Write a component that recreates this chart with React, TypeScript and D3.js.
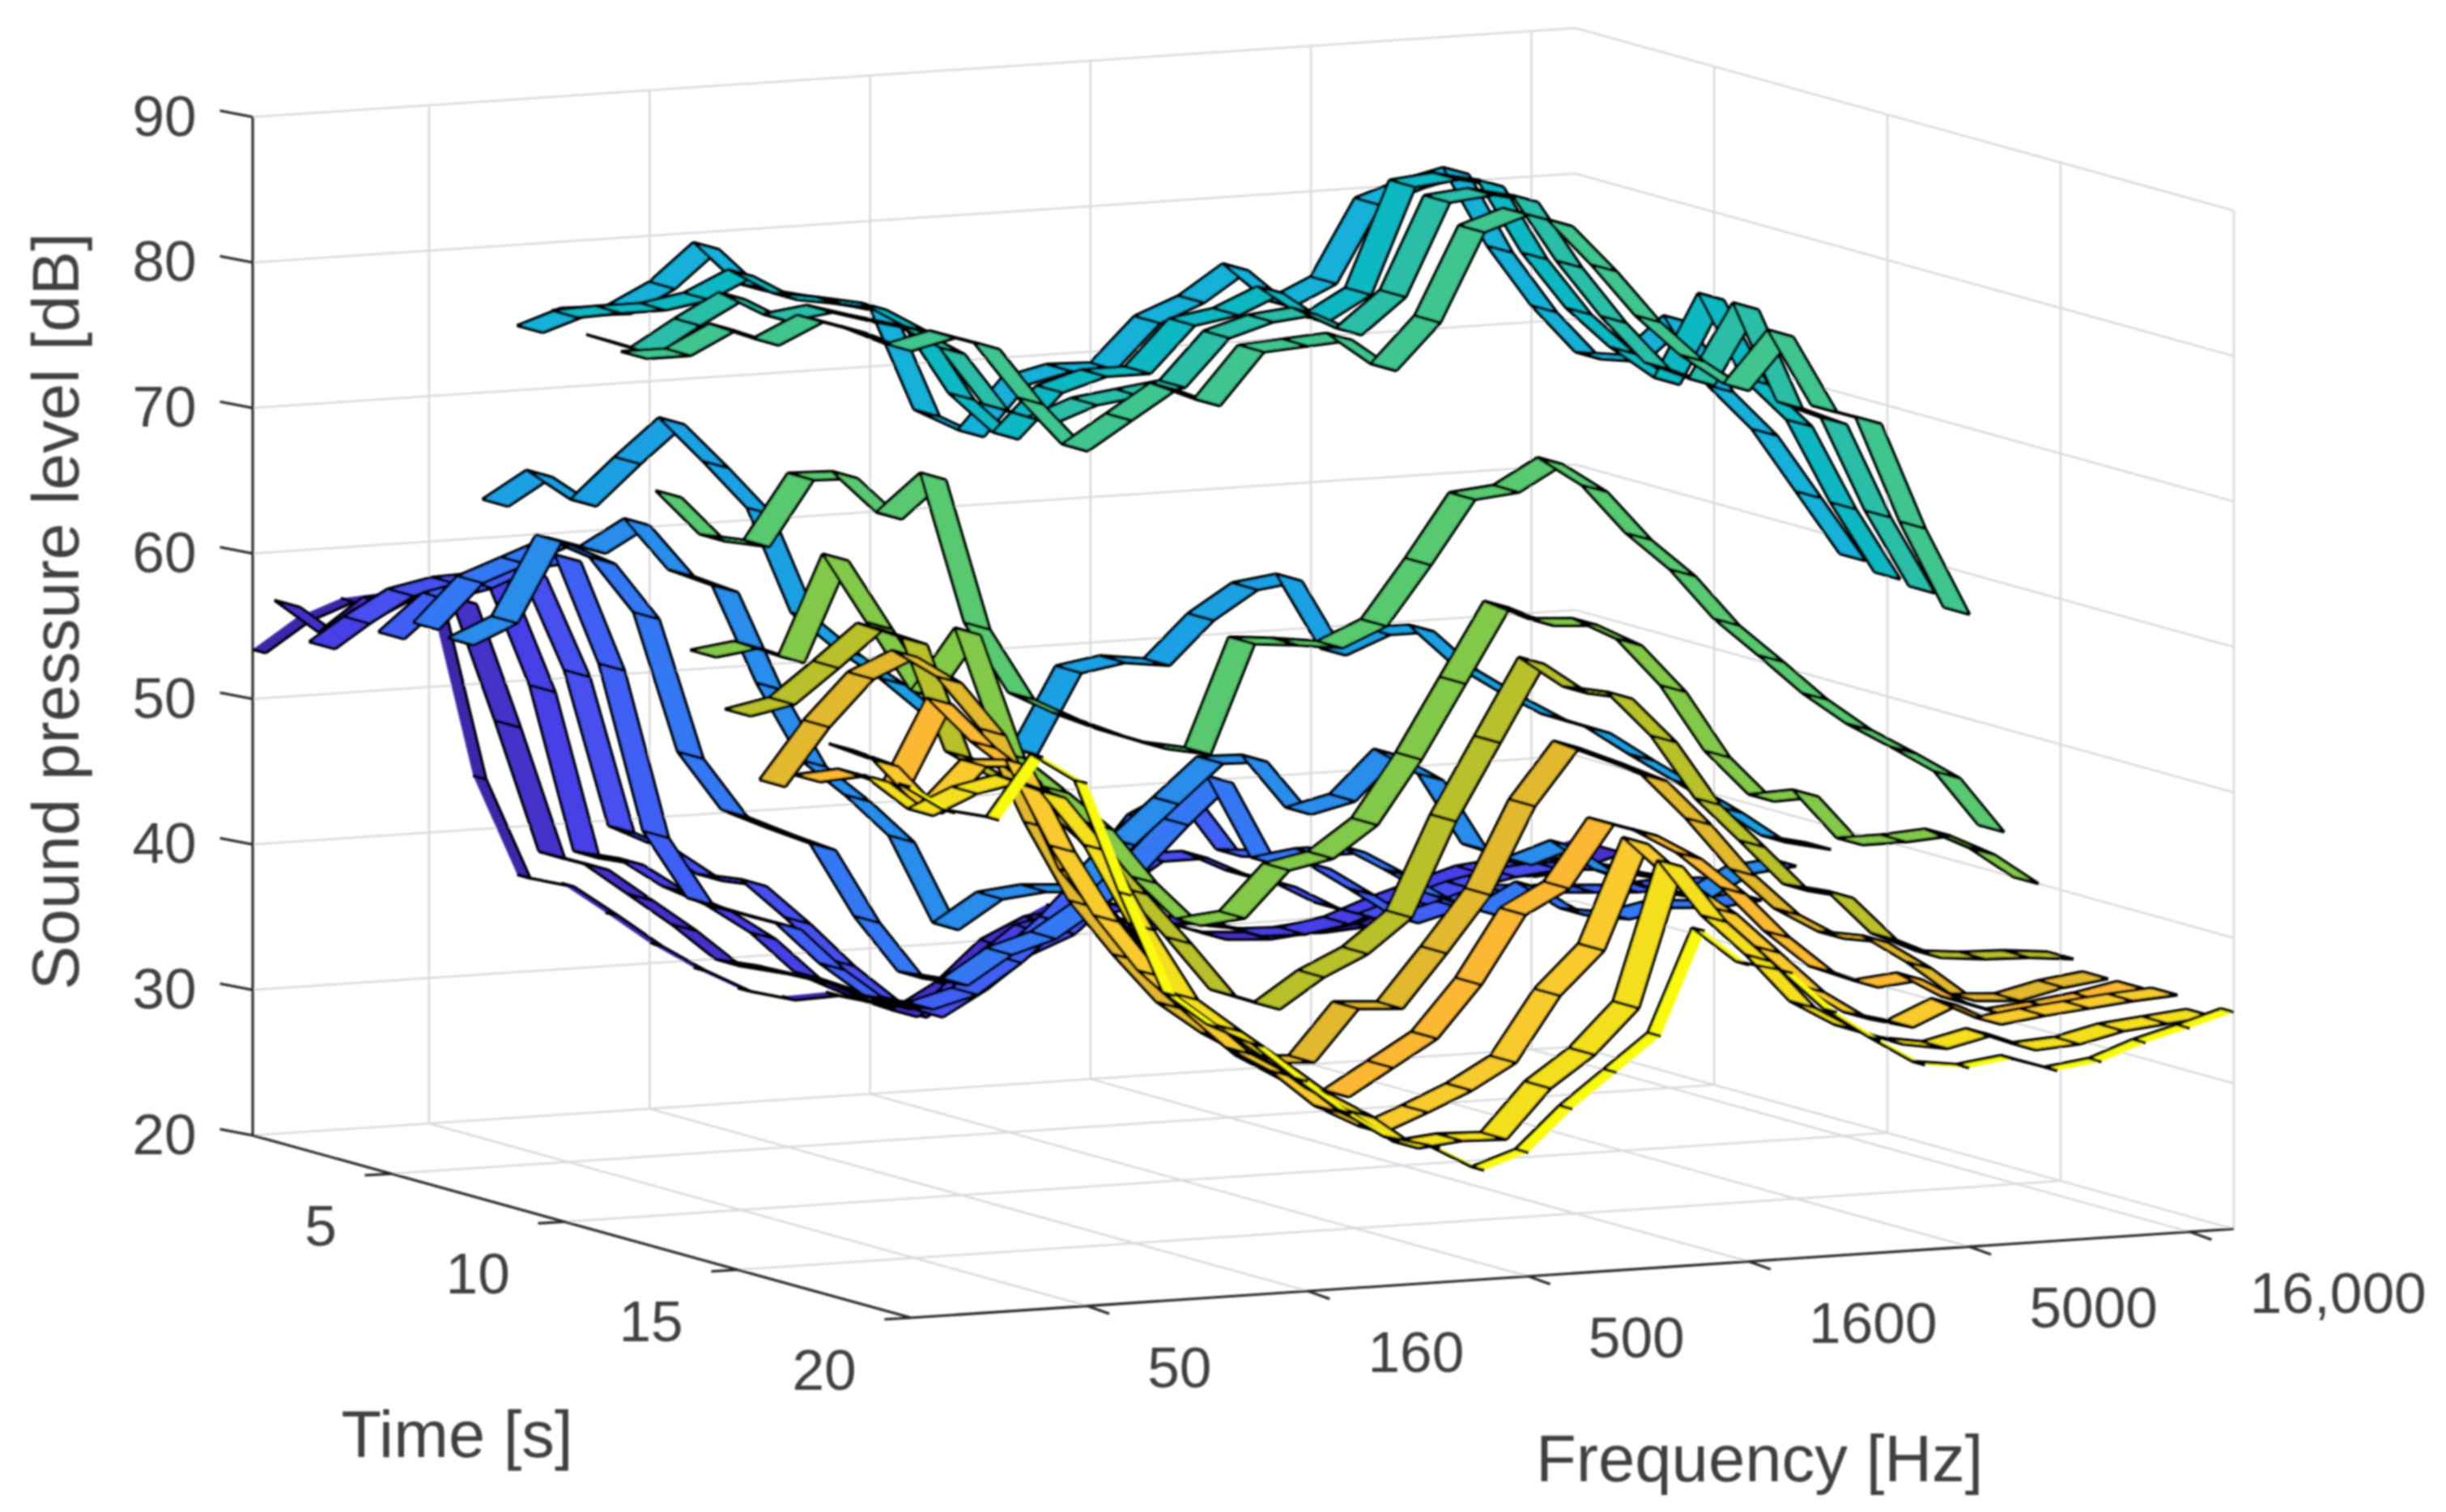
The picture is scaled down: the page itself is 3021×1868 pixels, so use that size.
import { useEffect, useRef } from 'react';
import * as d3 from 'd3';

// one row per time step, 31 third-octave bands from 20 Hz to 20 kHz, dB
const spl01 = [53.4,55.4,56.5,56.7,56.5,43.7,36.7,35.9,33.7,31.4,29.5,27.9,27.1,27.2,26.4,25.3,27.8,30.8,32.2,31.5,30.7,30.5,30,29.4,29.3,29.5,30.4,31.4,32.3,33.5,34.3];
const spl02 = [57.2,54.8,57,57.1,56.6,47.9,38.7,37.7,35.4,33.1,30.5,29.8,28.9,27.4,26.2,27.9,30.6,32,32.3,31.1,31.2,30.1,29.9,30.2,30.6,31.8,32.8,33.4,33,33.3,34.2];
const spl03 = [55,57,58.4,58.2,58.7,51,39.4,38.7,36.6,35.1,33,30.1,28.9,27.6,27.4,30.1,32.3,32.9,33.5,32.3,32,31,30.9,31.4,32.5,33.4,34.3,34.6,34.5,34,33.2];
const spl04 = [57.4,59.1,59.7,59.8,59.8,52.7,41.8,40.3,38.1,37.5,34.7,31.6,29,27.7,29.4,31.6,32.8,35.5,37.4,37.4,35.9,35,33.3,32.3,33.2,34.1,34.7,35,34.8,34.1,33.4];
const spl05 = [57,59.5,60.1,61.3,61.5,53.8,42.1,37.3,36.2,35.2,32.2,29.8,29.1,29.9,31.9,34.4,37.4,41,42.4,38.2,37.9,36.9,34.9,32.8,33.6,34.5,34.3,34.1,33.9,34.1,34];
const spl06 = [58.3,61.3,62.4,63.5,62,58,48.2,44,42.6,41.3,36.1,32.1,31.4,33.3,34.2,36.1,38.4,41.4,44.1,38.3,38.7,38.7,36.9,35,33.8,35.4,33.4,32.9,33.5,33.3,33.6];
const spl07 = [57.9,59.2,64.6,63.6,65.3,61.6,60.3,53.4,47.9,45.3,42.3,36.1,38,38.3,38.1,41.1,43.7,46.3,46.2,42.4,43.1,46,44.1,39.1,37.9,38.9,36.7,35.4,34.7,36.3,36.6];
const spl08 = [68.1,69.9,67.7,70.4,72.9,69.7,66.3,58.9,56.2,54,51.3,49.5,48.6,54,54.5,54.1,57,58.9,59.3,54,55.2,55.2,52.3,50.3,48.5,47.4,45.3,43.3,41.3,39.1,38.4];
const spl09 = [80.7,81.7,81.6,83.1,85.6,82.6,81.8,81.1,80.3,73.1,71.5,74.9,75.6,75.5,78.5,79.7,81.7,79,80.4,85.6,86.6,87.3,81.7,77.4,74,73.6,76.1,71.1,67.9,63.4,58.9];
const spl10 = [82.4,82.5,82.5,83,84.4,82.6,82.1,81.5,79.7,74.9,72,75,75.9,75.9,79,79.5,80.8,78.6,80.3,87.5,87.8,87.1,81.9,77.9,75,72.7,78.3,72.3,69.2,63.3,58.3];
const spl11 = [81.4,80.3,82.1,83.7,82,82.4,81.5,80.7,78.9,74.8,73.7,74.8,75.2,75.6,78.8,79.7,80,78.4,80.8,87.1,87.4,86.7,82,78,74.6,73.3,78.3,71.3,70,63.4,58];
const spl12 = [80.9,80.9,82.4,81.2,82.6,81.6,80.2,80.9,79.9,75.9,72.5,74.4,76.3,75,78.5,78.7,78.9,76.6,79.7,85.7,86.7,85.7,82.4,78.7,75.8,73.6,77.1,71.7,70.7,63.3,57.2];
const spl13 = [72,68.8,68.2,72.6,72.5,69.5,72,61.5,56.5,54.9,53.6,52.5,51.9,59.3,59,58.6,59.9,63.9,68.2,68.5,70.2,68.1,64.6,61.9,58.3,55.6,52.8,50.5,48.7,46.8,42.9];
const spl14 = [61.7,62.1,60.9,67.7,62.8,57.9,62,53.3,50.7,48,44.1,41,41.3,44.4,45,47.1,51.4,56.4,61.4,60,59.8,58.2,54.8,50.1,46.9,47,43.5,43.5,43.7,42.2,40];
const spl15 = [58.3,58.9,61.2,63.6,62.4,54.4,52.5,50.7,47.8,44.2,40.6,36.8,35.7,37.7,39.1,41.4,47.8,53,58.2,56,55.4,52.2,47.7,44.6,41.4,40.7,37.6,36.2,35.9,35.8,35.5];
const spl16 = [54.1,58,61.1,62.4,60.4,56.6,50,44.4,40.5,37,34.7,32.9,32.7,36.2,36,39.6,43.4,49.3,53.1,51.8,50.4,47.2,43.5,40.6,38.8,38.3,36.3,33.9,33.7,34.4,34.8];
const spl17 = [55.1,55.3,54.1,59.8,56.6,54.1,47.4,43.5,39.5,36.6,33.8,32,31,32.8,34.6,38.1,42.7,44.3,48.5,47.5,45.7,43.1,39.9,37.3,36.1,36.4,34.6,33.5,33.8,34.2,34.8];
const spl18 = [57.9,56.6,53.2,56.2,56,49.9,44.9,40.9,38,35.2,33.4,30.8,29.2,30.4,31.7,33.4,37.8,40.7,47.8,44.9,42.6,39.7,36.8,34.8,34,35.3,33.8,34.2,34.5,34.8,35];
const spl19 = [56.4,53.9,55.2,55.8,54.5,50.6,45,40,37.6,35.3,32.9,31.1,28.8,29.1,29,32.3,34.4,37.4,46.9,42.9,40,36.6,34.8,33.7,33.2,33.9,32.7,32.9,33.6,33.9,34.2];
const spl20 = [56.5,54.5,53.8,57.9,55.9,48,40.9,38.5,37,34.4,32,30,29.2,27.5,28.5,31.3,33.6,35.9,42.9,40.4,39.6,36.7,34.6,32.7,32.3,32.7,31.7,32.1,33.2,34,34.9];

const ribbons = [spl01,spl02,spl03,spl04,spl05,spl06,spl07,spl08,spl09,spl10,spl11,spl12,spl13,spl14,spl15,spl16,spl17,spl18,spl19,spl20];
const ribbonColors = ['#3e26a8','#4530c8','#4740e6','#4650ee','#4060f5','#3478f3','#2a8ceb','#1fa0e4','#17b0d8','#0bb8c2','#2abea8','#3fc58f','#58c96f','#82c94a','#b8c02a','#e2b82f','#fbb832','#f8ca2e','#f4df1e','#f9fb0e'];

const splTicks = [20,30,40,50,60,70,80,90];
const timeTicks = [5,10,15,20];
const freqTickBands = [4,9,14,19,24,29];
const freqLabels = ['50','160','500','1600','5000','16,000'];

const ribbonWidth = 0.75;
const inkColor = '#404040';

const App = () => {
  const ref = useRef<SVGSVGElement | null>(null);

  useEffect(() => {
    const svg = d3.select(ref.current);
    svg.selectAll('*').remove();

    // skewed box, worked out in the 1568 wide picture
    const xBand = d3.scaleLinear().domain([0,30]).range([162,1010]);
    const yBand = d3.scaleLinear().domain([0,30]).range([728,671]);
    const xTime = d3.scaleLinear().domain([1,20]).range([0,422]);
    const yTime = d3.scaleLinear().domain([1,20]).range([0,117]);
    const yLevel = d3.scaleLinear().domain([20,90]).range([0,-653]);

    const project = (b: number, t: number, z: number): [number,number] =>
      [xBand(b)+xTime(t), yBand(b)+yTime(t)+yLevel(z)];
    const line = d3.line();

    svg.append('defs').append('filter')
      .attr('id','soft')
      .attr('filterUnits','userSpaceOnUse')
      .attr('x',0).attr('y',0).attr('width',1568).attr('height',970)
      .append('feGaussianBlur').attr('stdDeviation',0.65);

    const g = svg.append('g').attr('filter','url(#soft)');

    // grid on the walls and the floor
    const grid = g.append('g').attr('fill','none').attr('stroke','#d9d9d9').attr('stroke-width',1.3);
    const gridLine = (a: [number,number], b: [number,number]) => grid.append('path').attr('d',line([a,b]));

    splTicks.forEach(z => {
      gridLine(project(0,1,z),project(30,1,z));
      gridLine(project(30,1,z),project(30,20,z));
    });
    freqTickBands.forEach(b => {
      gridLine(project(b,1,20),project(b,1,90));
      gridLine(project(b,1,20),project(b,20,20));
    });
    timeTicks.forEach(t => {
      gridLine(project(30,t,20),project(30,t,90));
      gridLine(project(0,t,20),project(30,t,20));
    });

    // axes and ticks
    const axes = g.append('g').attr('fill','none').attr('stroke','#262626').attr('stroke-width',1.6);
    const axisLine = (a: [number,number], b: [number,number]) => axes.append('path').attr('d',line([a,b]));
    axisLine(project(0,1,20),project(0,1,90));
    axisLine(project(0,1,20),project(0,20,20));
    axisLine(project(0,20,20),project(30,20,20));
    splTicks.forEach(z => {
      const p = project(0,1,z);
      axisLine(p,[p[0]-21,p[1]-4]);
    });
    timeTicks.forEach(t => {
      const p = project(0,t,20);
      axisLine(p,[p[0]-17,p[1]+1]);
    });
    freqTickBands.forEach(b => {
      const p = project(b,20,20);
      axisLine(p,[p[0]+14,p[1]+5]);
    });

    // ribbons, back to front
    const bands = d3.range(31);
    ribbons.forEach((levels,idx) => {
      const t = idx+1;
      const t0 = Math.max(1,t-ribbonWidth/2);
      const t1 = Math.min(20,t+ribbonWidth/2);
      const rg = g.append('g');
      bands.slice(0,-1).forEach(b => {
        const a0 = project(b,t0,levels[b]);
        const a1 = project(b,t1,levels[b]);
        const b0 = project(b+1,t0,levels[b+1]);
        const b1 = project(b+1,t1,levels[b+1]);
        rg.append('path').attr('d',line([a0,a1,b1,b0])+'Z').attr('fill',ribbonColors[idx]).attr('stroke','none');
        const edges = d3.path();
        edges.moveTo(a0[0],a0[1]); edges.lineTo(a1[0],a1[1]);
        edges.moveTo(b0[0],b0[1]); edges.lineTo(b1[0],b1[1]);
        // the box cuts the first and last ribbon, no black on the cut side
        if (t-ribbonWidth/2 >= 1) { edges.moveTo(a0[0],a0[1]); edges.lineTo(b0[0],b0[1]); }
        if (t+ribbonWidth/2 <= 20) { edges.moveTo(a1[0],a1[1]); edges.lineTo(b1[0],b1[1]); }
        rg.append('path').attr('d',edges.toString()).attr('fill','none').attr('stroke','#000').attr('stroke-width',1.9);
      });
    });

    // text
    const text = g.append('g').attr('font-family','"Liberation Sans", Arial, sans-serif').attr('fill',inkColor);
    splTicks.forEach(z => {
      const p = project(0,1,z);
      text.append('text').text(z).attr('x',126).attr('y',p[1]+12).attr('text-anchor','end').attr('font-size',37);
    });
    timeTicks.forEach(t => {
      const p = project(0,t,20);
      text.append('text').text(t).attr('x',p[0]-35).attr('y',p[1]+46).attr('text-anchor','end').attr('font-size',37);
    });
    freqLabels.forEach((label,i) => {
      const p = project(freqTickBands[i],20,20);
      text.append('text').text(label).attr('x',p[0]+38.5).attr('y',p[1]+52).attr('text-anchor','start').attr('font-size',37);
    });
    text.append('text').text('Sound pressure level [dB]')
      .attr('transform','translate(50,392) rotate(-90)')
      .attr('text-anchor','middle').attr('font-size',42.4);
    text.append('text').text('Time [s]').attr('x',293).attr('y',934).attr('text-anchor','middle').attr('font-size',42.2);
    text.append('text').text('Frequency [Hz]').attr('x',1128).attr('y',950).attr('text-anchor','middle').attr('font-size',42.3);
  }, []);

  return (
    <svg
      ref={ref}
      width={3021}
      height={1868}
      viewBox="0 0 1568 969.5"
      style={{position:'absolute',left:0,top:0,background:'#fff'}}
    />
  );
};

export default App;
